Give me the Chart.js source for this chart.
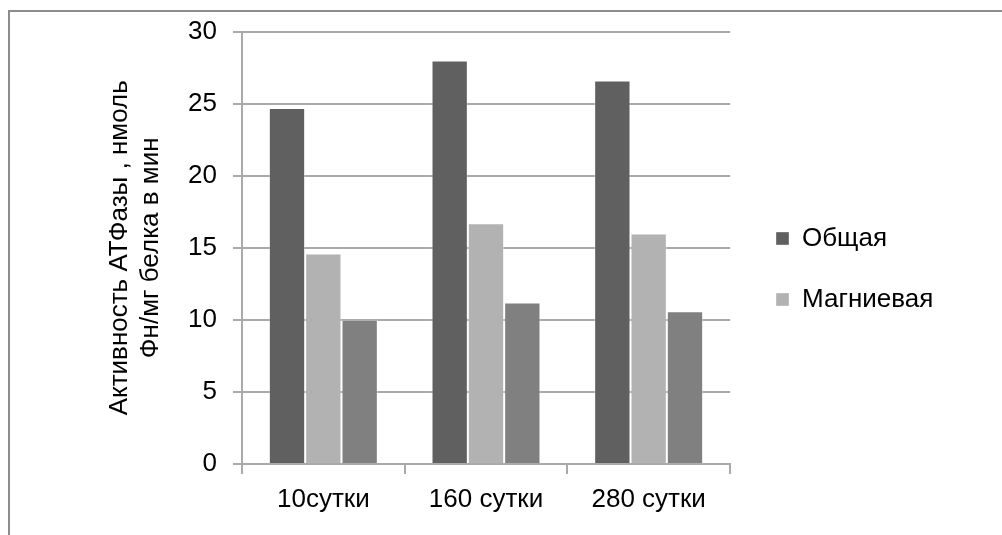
<!DOCTYPE html>
<html>
<head>
<meta charset="utf-8">
<script src="https://cdn.jsdelivr.net/npm/chart.js@4.4.1/dist/chart.umd.min.js"></script>
<style>
  html, body { margin: 0; padding: 0; background: #fff; overflow: hidden; }
  canvas { display: block; }
</style>
</head>
<body>
<canvas id="atpase" width="1002" height="535"></canvas>
<script>
// Categories (days) and ATPase activity per series
const categories = ['10сутки', '160 сутки', '280 сутки'];
const totalActivity = [24.7, 28.0, 26.6];
const magnesiumActivity = [14.6, 16.7, 16.0];
const naKActivity = [10.0, 11.2, 10.6];

const seriesNames = ['Общая', 'Магниевая', 'Na,K-зависимая'];
const seriesColors = ['#606060', '#b2b2b2', '#808080'];

const yMin = 0;
const yMax = 30;
const yStep = 5;
const yTitle = ['Активность АТФазы , нмоль', 'Фн/мг белка в мин'];

const FONT_SIZE = 26;
Chart.defaults.font.family = "'Liberation Sans', Arial, sans-serif";
Chart.defaults.font.size = FONT_SIZE;
Chart.defaults.color = '#000';

const gridColor = '#aaaaaa';

// white background and the outer frame (top and left edges)
const framePlugin = {
  id: 'frame',
  beforeDraw(chart) {
    const ctx = chart.ctx;
    ctx.save();
    ctx.fillStyle = '#fff';
    ctx.fillRect(0, 0, chart.width, chart.height);
    ctx.strokeStyle = '#8c8c8c';
    ctx.lineWidth = 2;
    ctx.beginPath();
    ctx.moveTo(9, chart.height);
    ctx.lineTo(9, 11);
    ctx.lineTo(chart.width, 11);
    ctx.stroke();
    ctx.restore();
  }
};

// move the legend block a little right of the plot and up,
// and let it use the remaining width so labels are not cut
const legendOffset = {
  id: 'legendOffset',
  afterLayout(chart) {
    const lg = chart.legend;
    if (lg) {
      lg.left += 11;
      lg.right = chart.width;
      lg.width = lg.right - lg.left;
      lg.top -= 14; lg.bottom -= 14;
    }
  }
};

const datasets = [totalActivity, magnesiumActivity, naKActivity].map((values, i) => ({
  label: seriesNames[i],
  data: values,
  backgroundColor: seriesColors[i],
  borderColor: 'rgba(255,255,255,0.35)',
  borderWidth: 1,
  borderSkipped: 'start',
  barPercentage: 1,
  categoryPercentage: 0.67
}));

new Chart(document.getElementById('atpase'), {
  type: 'bar',
  data: { labels: categories, datasets },
  plugins: [framePlugin, legendOffset],
  options: {
    responsive: false,
    animation: false,
    devicePixelRatio: 1,
    layout: { padding: { left: 14, top: 31, right: 92, bottom: 0 } },
    plugins: {
      tooltip: { enabled: false },
      legend: {
        position: 'right',
        maxWidth: 180,
        labels: {
          boxWidth: 13,
          boxHeight: 13,
          padding: 35,
          font: { size: FONT_SIZE },
          filter: (item) => item.datasetIndex < 2
        }
      }
    },
    scales: {
      x: {
        grid: {
          drawOnChartArea: false,
          drawTicks: true,
          tickLength: 10,
          color: gridColor,
          lineWidth: 2
        },
        border: { display: true, color: gridColor, width: 2 },
        ticks: { padding: 10, font: { size: FONT_SIZE }, color: '#000' },
        afterFit(scale) { scale.height = 71; }
      },
      y: {
        min: yMin,
        max: yMax,
        ticks: { stepSize: yStep, padding: 16, font: { size: FONT_SIZE }, color: '#000' },
        grid: {
          color: gridColor,
          lineWidth: 2,
          tickLength: 9,
          drawTicks: true
        },
        border: { display: true, color: gridColor, width: 2 },
        title: {
          display: true,
          text: yTitle,
          color: '#000',
          font: { size: FONT_SIZE, lineHeight: 1.2 },
          padding: { top: 90, bottom: 0 }
        },
        afterFit(scale) { scale.width = 228; }
      }
    }
  }
});
</script>
</body>
</html>
